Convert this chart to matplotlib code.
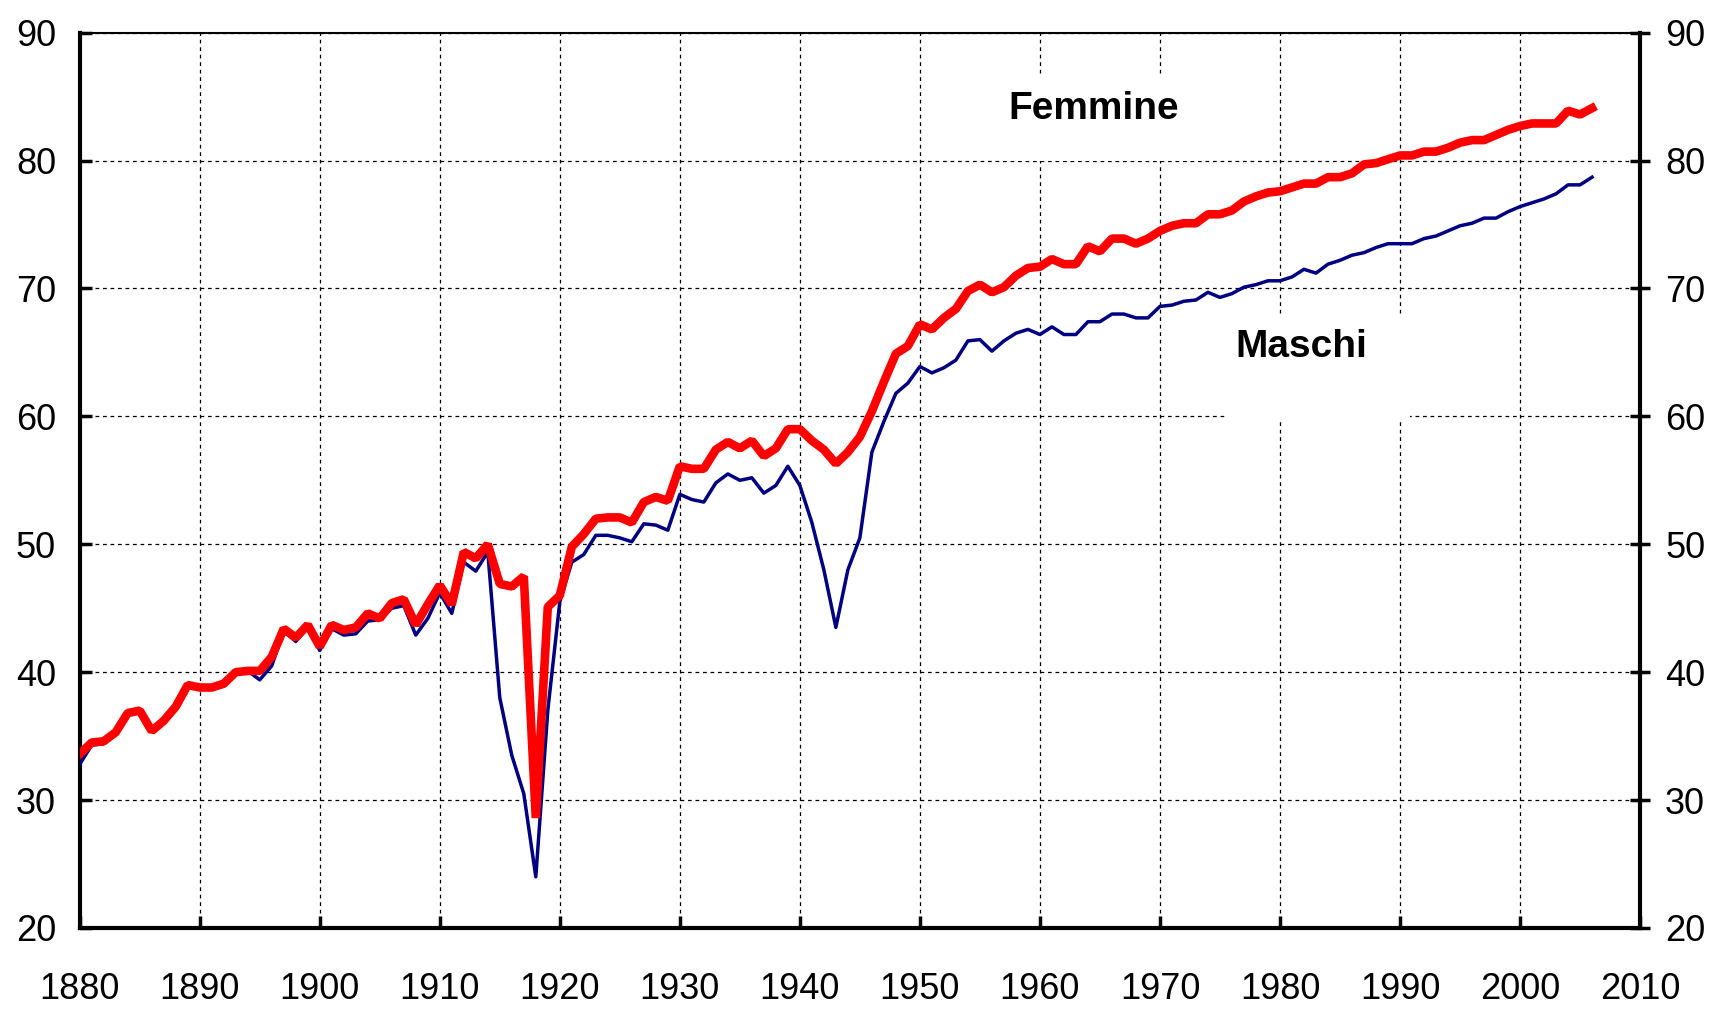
from matplotlib import pyplot as plt
from matplotlib.patches import Rectangle

anni = list(range(1880, 2007))

femmine = [
    33.6, 34.5, 34.6, 35.3, 36.8, 37.0, 35.4, 36.2, 37.3, 39.0,
    38.8, 38.8, 39.1, 40.0, 40.1, 40.1, 41.2, 43.4, 42.7, 43.7,
    42.0, 43.7, 43.3, 43.5, 44.6, 44.2, 45.4, 45.7, 43.7, 45.3,
    46.8, 45.3, 49.4, 48.9, 50.0, 46.9, 46.7, 47.5, 28.6, 45.1,
    46.0, 49.8, 50.8, 52.0, 52.1, 52.1, 51.7, 53.3, 53.7, 53.4,
    56.1, 55.9, 55.9, 57.4, 58.0, 57.5, 58.1, 56.9, 57.5, 59.0,
    59.0, 58.1, 57.4, 56.3, 57.2, 58.4, 60.4, 62.7, 64.9, 65.5,
    67.2, 66.8, 67.7, 68.4, 69.8, 70.3, 69.7, 70.1, 71.0, 71.6,
    71.7, 72.3, 71.9, 71.9, 73.3, 72.9, 73.9, 73.9, 73.5, 73.9,
    74.5, 74.9, 75.1, 75.1, 75.8, 75.8, 76.1, 76.8, 77.2, 77.5,
    77.6, 77.9, 78.2, 78.2, 78.7, 78.7, 79.0, 79.7, 79.8, 80.1,
    80.4, 80.4, 80.7, 80.7, 81.0, 81.4, 81.6, 81.6, 82.0, 82.4,
    82.7, 82.9, 82.9, 82.9, 83.9, 83.6, 84.1,
]

maschi = [
    32.8, 34.3, 34.4, 35.2, 36.8, 37.1, 35.5, 36.2, 37.2, 39.0,
    38.8, 38.8, 39.2, 40.1, 40.1, 39.4, 40.5, 43.2, 42.4, 43.5,
    41.7, 43.4, 42.9, 43.0, 44.0, 44.1, 45.0, 45.2, 42.9, 44.2,
    46.2, 44.6, 48.6, 47.9, 49.4, 38.0, 33.5, 30.5, 24.0, 37.0,
    45.5, 48.6, 49.2, 50.7, 50.7, 50.5, 50.2, 51.6, 51.5, 51.1,
    53.9, 53.5, 53.3, 54.8, 55.5, 55.0, 55.2, 54.0, 54.6, 56.1,
    54.6, 51.7, 48.0, 43.5, 48.0, 50.5, 57.2, 59.6, 61.8, 62.6,
    63.9, 63.4, 63.8, 64.4, 65.9, 66.0, 65.1, 65.9, 66.5, 66.8,
    66.4, 67.0, 66.4, 66.4, 67.4, 67.4, 68.0, 68.0, 67.7, 67.7,
    68.6, 68.7, 69.0, 69.1, 69.7, 69.3, 69.6, 70.1, 70.3, 70.6,
    70.6, 70.9, 71.5, 71.2, 71.9, 72.2, 72.6, 72.8, 73.2, 73.5,
    73.5, 73.5, 73.9, 74.1, 74.5, 74.9, 75.1, 75.5, 75.5, 76.0,
    76.4, 76.7, 77.0, 77.4, 78.1, 78.1, 78.7,
]

x_ticks = list(range(1880, 2011, 10))
y_ticks = list(range(20, 91, 10))

plt.rcParams['font.family'] = ['Liberation Sans', 'DejaVu Sans']

fig = plt.figure(figsize=(17.1, 10.11), dpi=100)
ax = fig.add_axes([0.0466, 0.0821, 0.9125, 0.8856])
ax2 = ax.twinx()

ax.set_xlim(1880, 2010)
ax.set_ylim(20, 90)
ax2.set_ylim(20, 90)
ax.set_xticks(x_ticks)
ax.set_yticks(y_ticks)
ax2.set_yticks(y_ticks)

ax.grid(True, color='black', linestyle=(0, (3, 3)), linewidth=0.9)

# white boxes behind the labels hide the grid
ax.add_patch(Rectangle((1956.8, 80.0), 16.7, 6.5, facecolor='white',
                       edgecolor='none', zorder=1.8))
ax.add_patch(Rectangle((1975.4, 59.6), 15.4, 8.3, facecolor='white',
                       edgecolor='none', zorder=1.8))

ax.plot(anni, maschi, color='#000080', linewidth=2.5, zorder=3)
ax.plot(anni, femmine, color='#ff0000', linewidth=6.2,
        solid_joinstyle='bevel', zorder=4)

ax.text(1964.5, 84.0, 'Femmine', fontsize=28, fontweight='bold',
        ha='center', va='center', zorder=5)
ax.text(1981.8, 65.4, 'Maschi', fontsize=28, fontweight='bold',
        ha='center', va='center', zorder=5)

for s in ['left', 'bottom']:
    ax.spines[s].set_linewidth(3)
ax.spines['top'].set_linewidth(1.5)
ax.spines['right'].set_visible(False)
for s in ['left', 'bottom', 'top']:
    ax2.spines[s].set_visible(False)
ax2.spines['right'].set_linewidth(3)

ax.tick_params(axis='x', direction='in', length=8.5, width=2.5,
               pad=32, labelsize=26)
ax.tick_params(axis='y', direction='in', length=8.5, width=2.5,
               pad=17, labelsize=26)
ax2.tick_params(axis='y', direction='inout', length=14, width=2.5,
                pad=11, labelsize=26)

plt.savefig('out.png', dpi=100)
